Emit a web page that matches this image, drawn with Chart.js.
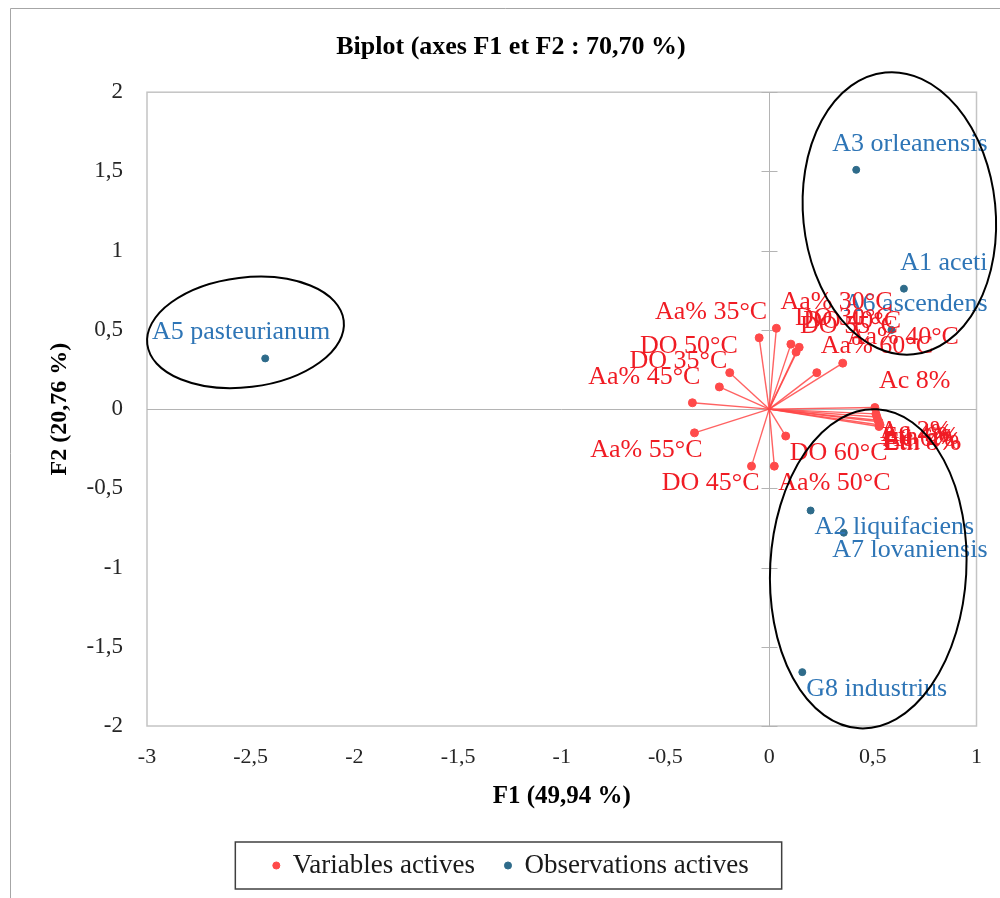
<!DOCTYPE html>
<html>
<head>
<meta charset="utf-8">
<script src="https://cdn.jsdelivr.net/npm/chart.js@4.4.1/dist/chart.umd.min.js"></script>
<style>
  html, body { margin: 0; padding: 0; background: #fff; }
</style>
</head>
<body>
<canvas id="biplot" width="1000" height="898"></canvas>
<script>
// Variables actives : coordonnées sur F1 / F2
const varNames = ["Aa% 30°C", "Aa% 35°C", "DO 30°C", "DO 40°C", "DO 55°C", "Aa% 40°C", "Aa% 60°C",
    "DO 50°C", "DO 35°C", "Aa% 45°C", "Aa% 55°C", "DO 60°C", "DO 45°C", "Aa% 50°C",
    "Ac 8%", "Ac 2%", "Ac 4%", "Ac 6%", "Eth 4%", "Eth 6%", "Eth 8%"];
const varF1 = [0.035, -0.048, 0.105, 0.145, 0.13, 0.355, 0.23,
    -0.19, -0.24, -0.37, -0.36, 0.08, -0.085, 0.025,
    0.51, 0.515, 0.52, 0.53, 0.535, 0.525, 0.53];
const varF2 = [0.51, 0.45, 0.41, 0.39, 0.36, 0.29, 0.23,
    0.23, 0.14, 0.04, -0.15, -0.17, -0.36, -0.36,
    0.01, -0.03, -0.05, -0.08, -0.10, -0.07, -0.11];

// Observations actives (souches)
const obsNames = ["A5 pasteurianum", "A3 orleanensis", "A1 aceti", "A6 ascendens",
    "A2 liquifaciens", "A7 lovaniensis", "G8 industrius"];
const obsF1 = [-2.43, 0.42, 0.65, 0.59, 0.20, 0.36, 0.16];
const obsF2 = [0.32, 1.51, 0.76, 0.50, -0.64, -0.78, -1.66];

// Graduations des axes
const xTicks = [-3, -2.5, -2, -1.5, -1, -0.5, 0, 0.5, 1];
const yTicks = [-2, -1.5, -1, -0.5, 0, 0.5, 1, 1.5, 2];

// Groupes entourés (centre et demi-axes en unités des axes)
const groups = [
    { cx: -2.525, cy: 0.484, rx: 0.477, ry: 0.346, rot: -0.12 },
    { cx: 0.628, cy: 1.235, rx: 0.464, ry: 0.894, rot: -0.1 },
    { cx: 0.478, cy: -1.008, rx: 0.473, ry: 1.008, rot: 0.055 },
];

const serif = '"Liberation Serif", "Times New Roman", serif';
const fmt = (v) => String(v).replace(".", ",");

const varPoints = varNames.map((n, i) => ({ x: varF1[i], y: varF2[i] }));
const obsPoints = obsNames.map((n, i) => ({ x: obsF1[i], y: obsF2[i] }));

// un segment origine -> variable pour chaque vecteur
const vectorSets = varPoints.map((p) => ({
    label: "",
    data: [{ x: 0, y: 0 }, p],
    showLine: true,
    borderColor: "rgba(255, 70, 70, 0.85)",
    borderWidth: 1.4,
    pointRadius: 0,
    inLegend: false,
}));

const framePlugin = {
    id: "frame",
    beforeDraw(chart) {
        const ctx = chart.ctx;
        ctx.save();
        ctx.strokeStyle = "#a6a6a6";
        ctx.lineWidth = 1;
        ctx.beginPath();
        ctx.moveTo(10.5, chart.height);
        ctx.lineTo(10.5, 8.5);
        ctx.lineTo(chart.width, 8.5);
        ctx.stroke();
        ctx.restore();
    },
    beforeDatasetsDraw(chart) {
        const { ctx, chartArea: a, scales } = chart;
        const x0 = Math.round(scales.x.getPixelForValue(0)) + 0.5;
        const y0 = Math.round(scales.y.getPixelForValue(0)) + 0.5;
        ctx.save();
        ctx.strokeStyle = "#c4c4c4";
        ctx.lineWidth = 1.5;
        ctx.strokeRect(a.left, a.top, a.right - a.left, a.bottom - a.top);
        ctx.strokeStyle = "#b4b4b4";
        ctx.lineWidth = 1;
        ctx.beginPath();
        ctx.moveTo(x0, a.top);
        ctx.lineTo(x0, a.bottom);
        ctx.moveTo(a.left, y0);
        ctx.lineTo(a.right, y0);
        // graduations sur l'axe vertical passant par l'origine
        yTicks.forEach((v) => {
            const p = Math.round(scales.y.getPixelForValue(v)) + 0.5;
            ctx.moveTo(x0 - 8, p);
            ctx.lineTo(x0 + 8, p);
        });
        ctx.stroke();
        ctx.restore();
    },
};

const labelPlugin = {
    id: "pointLabels",
    afterDatasetsDraw(chart) {
        const { ctx, chartArea: a } = chart;
        ctx.save();
        ctx.font = "26px " + serif;
        ctx.textAlign = "left";
        ctx.textBaseline = "middle";
        [1, 0].forEach((i) => {
            const ds = chart.data.datasets[i];
            const meta = chart.getDatasetMeta(i);
            ctx.fillStyle = ds.labelColor;
            meta.data.forEach((pt, j) => {
                const text = ds.names[j];
                const v = ds.data[j];
                const w = ctx.measureText(text).width;
                let left = v.x < 0 ? pt.x + 8 - w : pt.x + 4;
                left = Math.max(a.left + 5, Math.min(left, a.right + 11 - w));
                const y = v.y > 0 ? pt.y - 26 : pt.y + 17;
                ctx.fillText(text, left, y);
            });
        });
        ctx.restore();
    },
    afterDraw(chart) {
        const { ctx, scales } = chart;
        ctx.save();
        // contours des groupes
        ctx.strokeStyle = "#000";
        ctx.lineWidth = 2;
        const ux = Math.abs(scales.x.getPixelForValue(1) - scales.x.getPixelForValue(0));
        const uy = Math.abs(scales.y.getPixelForValue(1) - scales.y.getPixelForValue(0));
        groups.forEach((g) => {
            ctx.beginPath();
            ctx.ellipse(scales.x.getPixelForValue(g.cx), scales.y.getPixelForValue(g.cy),
                g.rx * ux, g.ry * uy, g.rot, 0, Math.PI * 2);
            ctx.stroke();
        });
        // cadre de la légende
        const boxes = chart.legend.legendHitBoxes;
        if (boxes && boxes.length) {
            const first = boxes[0];
            const last = boxes[boxes.length - 1];
            const cy = first.top + first.height / 2;
            ctx.strokeStyle = "#404040";
            ctx.lineWidth = 1.5;
            ctx.strokeRect(first.left - 38, cy - 23.5, last.left + last.width + 71 - first.left, 47);
        }
        ctx.restore();
    },
};

new Chart(document.getElementById("biplot"), {
    type: "scatter",
    data: {
        datasets: [
            {
                label: "Variables actives",
                data: varPoints,
                names: varNames,
                labelColor: "#f01c24",
                backgroundColor: "#ff4a4a",
                borderColor: "#ff4a4a",
                pointRadius: 4,
                inLegend: true,
            },
            {
                label: "Observations actives",
                data: obsPoints,
                names: obsNames,
                labelColor: "#2e75b6",
                backgroundColor: "#2e6b8a",
                borderColor: "#2e6b8a",
                pointRadius: 3.5,
                inLegend: true,
            },
            ...vectorSets,
        ],
    },
    options: {
        responsive: false,
        animation: false,
        layout: { padding: { left: 45, right: 23, top: 0, bottom: 9 } },
        plugins: {
            title: {
                display: true,
                text: "Biplot (axes F1 et F2 : 70,70 %)",
                color: "#000",
                font: { family: serif, size: 26, weight: "bold" },
                padding: { top: 32, bottom: 29 },
            },
            legend: {
                position: "bottom",
                labels: {
                    usePointStyle: true,
                    pointStyle: "circle",
                    boxWidth: 6,
                    boxHeight: 5,
                    padding: 30,
                    color: "#1a1a1a",
                    font: { family: serif, size: 27 },
                    filter: (item, data) => data.datasets[item.datasetIndex].inLegend,
                },
            },
            tooltip: { enabled: false },
        },
        scales: {
            x: {
                type: "linear",
                min: -3,
                max: 1,
                afterBuildTicks: (s) => { s.ticks = xTicks.map((v) => ({ value: v })); },
                afterFit: (s) => { s.height = 96; },
                ticks: {
                    callback: fmt,
                    color: "#262626",
                    padding: 18,
                    font: { family: serif, size: 22 },
                },
                grid: { display: false, drawTicks: false },
                border: { display: false },
                title: {
                    display: true,
                    text: "F1 (49,94 %)",
                    color: "#000",
                    font: { family: serif, size: 25, weight: "bold" },
                    padding: { top: 10, bottom: 10 },
                },
            },
            y: {
                type: "linear",
                min: -2,
                max: 2,
                afterBuildTicks: (s) => { s.ticks = yTicks.map((v) => ({ value: v })); },
                afterFit: (s) => { s.width = 102; },
                ticks: {
                    callback: fmt,
                    color: "#262626",
                    padding: 24,
                    font: { family: serif, size: 23 },
                },
                grid: { display: false, drawTicks: false },
                border: { display: false },
                title: {
                    display: true,
                    text: "F2 (20,76 %)",
                    color: "#000",
                    font: { family: serif, size: 24, weight: "bold" },
                    padding: { top: 0, bottom: 0 },
                },
            },
        },
    },
    plugins: [framePlugin, labelPlugin],
});
</script>
</body>
</html>
